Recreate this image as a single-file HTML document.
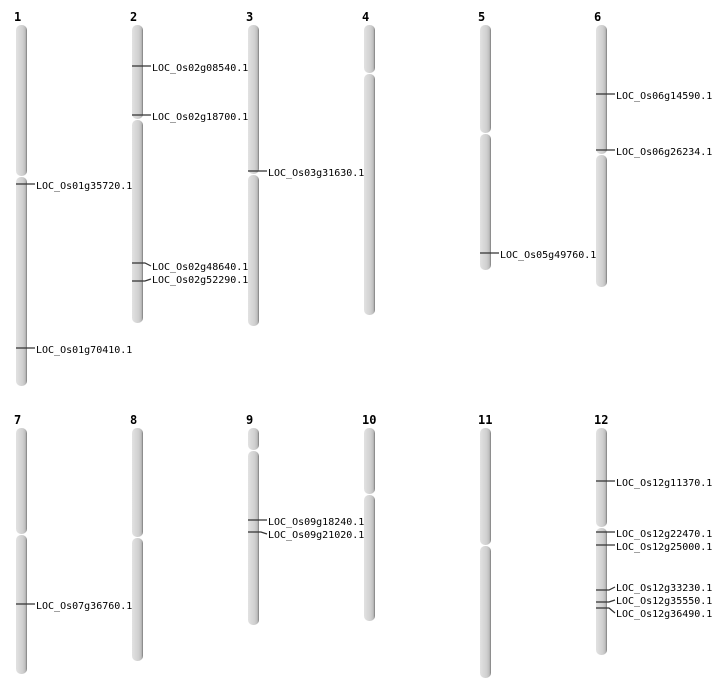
<!DOCTYPE html>
<html><head><meta charset="utf-8"><style>
html,body{margin:0;padding:0;background:#fff;}
svg{display:block;}
text{font-family:"DejaVu Sans Mono","Liberation Mono",monospace;font-size:10px;fill:#000;}
.n{font-family:"DejaVu Sans Mono","Liberation Mono",monospace;font-weight:bold;font-size:12px;}
</style></head><body>
<svg width="712" height="700" viewBox="0 0 712 700">
<defs>
<linearGradient id="g" x1="0" x2="1" y1="0" y2="0">
<stop offset="0" stop-color="#e2e2e2"/><stop offset="0.6" stop-color="#d0d0d0"/><stop offset="0.85" stop-color="#bdbdbd"/><stop offset="1" stop-color="#7a7a7a"/>
</linearGradient>
</defs>
<g id="chrs"></g>
</svg>
<script>
var C=[[21,25,176,386,"1"],[137,25,119,323,"2"],[253,25,174,326,"3"],[369,25,73,315,"4"],[485,25,133,270,"5"],[601,25,154,287,"6"],
[21,428,534,674,"7"],[137,428,537,661,"8"],[253,428,450,625,"9"],[369,428,494,621,"10"],[485,428,545,678,"11"],[601,428,527,655,"12"]];
var M=[[21,184,185,"LOC_Os01g35720.1"],[21,348,349,"LOC_Os01g70410.1"],
[137,66,67,"LOC_Os02g08540.1"],[137,115,116,"LOC_Os02g18700.1"],[137,263,266,"LOC_Os02g48640.1"],[137,281,279,"LOC_Os02g52290.1"],
[253,171,172,"LOC_Os03g31630.1"],[485,253,254,"LOC_Os05g49760.1"],[601,94,95,"LOC_Os06g14590.1"],[601,150,151,"LOC_Os06g26234.1"],
[21,604,605,"LOC_Os07g36760.1"],[253,520,521,"LOC_Os09g18240.1"],[253,532,534,"LOC_Os09g21020.1"],
[601,481,482,"LOC_Os12g11370.1"],[601,532,533,"LOC_Os12g22470.1"],[601,545,546,"LOC_Os12g25000.1"],[601,590,587,"LOC_Os12g33230.1"],[601,602,600,"LOC_Os12g35550.1"],[601,608,613,"LOC_Os12g36490.1"]];
var s="";
C.forEach(function(c){var x=c[0]-5,w=11;
s+='<text class="n" x="'+(c[0]-7)+'" y="'+(c[1]-4)+'">'+c[4]+'</text>';
s+='<rect x="'+x+'" y="'+c[1]+'" width="'+w+'" height="'+(c[2]-c[1])+'" rx="5" fill="url(#g)"/>';
s+='<rect x="'+x+'" y="'+(c[2]+1)+'" width="'+w+'" height="'+(c[3]-c[2]-1)+'" rx="5" fill="url(#g)"/>';});
M.forEach(function(m){var x=m[0];
if(Math.abs(m[2]-m[1])<=1){
s+='<line x1="'+(x-5)+'" y1="'+m[1]+'" x2="'+(x+14)+'" y2="'+m[1]+'" stroke="#333" stroke-width="1.2"/>';
}else{
s+='<polyline points="'+(x-5)+','+m[1]+' '+(x+8)+','+m[1]+' '+(x+14)+','+m[2]+'" fill="none" stroke="#333" stroke-width="1.2"/>';}
s+='<text x="'+(x+15)+'" y="'+(m[2]+4)+'">'+m[3]+'</text>';});
document.getElementById("chrs").innerHTML=s;
</script>
</body></html>
